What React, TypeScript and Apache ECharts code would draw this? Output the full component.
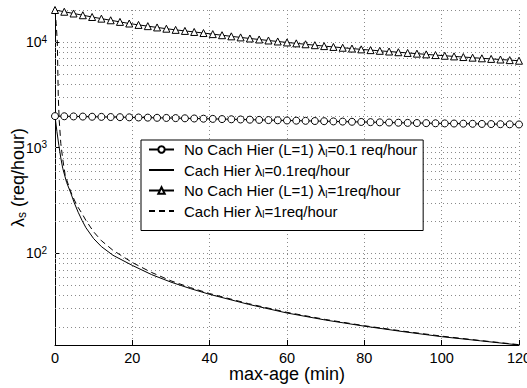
import React, { useEffect, useRef } from 'react';
import * as echarts from 'echarts';

// x positions of the marked points (markers every 2.4 min)
const markerX = [0, 2.4, 4.8, 7.2, 9.6, 12, 14.4, 16.8, 19.2, 21.6, 24, 26.4, 28.8, 31.2, 33.6, 36, 38.4, 40.8, 43.2, 45.6, 48, 50.4, 52.8, 55.2, 57.6, 60, 62.4, 64.8, 67.2, 69.6, 72, 74.4, 76.8, 79.2, 81.6, 84, 86.4, 88.8, 91.2, 93.6, 96, 98.4, 100.8, 103.2, 105.6, 108, 110.4, 112.8, 115.2, 117.6, 120];

// No Cach Hier (L=1), lambda_l = 0.1 req/hour (circles)
const noHierLow = [1990, 1984, 1977, 1971, 1964, 1958, 1951, 1945, 1938, 1932, 1926, 1919, 1913, 1906, 1898, 1890, 1882, 1874, 1866, 1858, 1850, 1842, 1834, 1826, 1818, 1810, 1803, 1796, 1789, 1782, 1774, 1767, 1760, 1753, 1746, 1738, 1731, 1724, 1718, 1713, 1708, 1703, 1698, 1694, 1689, 1684, 1679, 1674, 1670, 1665, 1660];

// No Cach Hier (L=1), lambda_l = 1 req/hour (triangles)
const noHierHigh = [20090, 19340, 18620, 17920, 17250, 16640, 16060, 15510, 14970, 14520, 14130, 13740, 13370, 13030, 12740, 12450, 12160, 11880, 11600, 11320, 11060, 10800, 10570, 10340, 10120, 9910, 9714, 9521, 9334, 9150, 8986, 8828, 8673, 8522, 8384, 8256, 8130, 8006, 7882, 7762, 7643, 7526, 7413, 7311, 7211, 7112, 7015, 6923, 6832, 6742, 6653];

// Cach Hier, lambda_l = 0.1 req/hour (solid)
const hierLowX = [0, 0.5, 1, 1.5, 2, 3, 4, 5, 6, 7, 8, 10, 12, 15, 20, 25, 30, 35, 40, 50, 60, 70, 80, 90, 100, 110, 120];
const hierLow = [1990, 1420, 1050, 800, 640, 470, 380, 300, 245, 205, 175, 138, 116, 96, 77, 63, 53.5, 46.5, 41, 33, 27.3, 23.4, 20.5, 18.2, 16.3, 14.9, 13.6];

// Cach Hier, lambda_l = 1 req/hour (dashed)
const hierHighX = [0, 0.3, 0.6, 0.85, 1.1, 1.5, 2, 2.6, 3, 4, 5, 6, 7, 8, 10, 12, 15, 20, 25, 30, 35, 40, 50, 60, 70, 80, 90, 100, 110, 120];
const hierHigh = [20090, 15000, 10000, 3000, 1800, 1100, 780, 560, 500, 390, 320, 272, 238, 205, 160, 132, 107, 82, 66, 55, 47.5, 41.7, 33.5, 27.7, 23.7, 20.7, 18.4, 16.5, 15, 13.7];

// horizontal (log) grid values
const yGridValues = [20, 30, 40, 50, 60, 70, 80, 90, 100, 200, 300, 400, 500, 600, 700, 800, 900, 1000, 2000, 3000, 4000, 5000, 6000, 7000, 8000, 9000, 10000, 20000];

const seriesNames = [
  'No Cach Hier (L=1) λl=0.1 req/hour',
  'Cach Hier λl=0.1req/hour',
  'No Cach Hier (L=1) λl=1req/hour',
  'Cach Hier λl=1req/hour',
];
const legendLabels = [
  'No Cach Hier (L=1) λ{sub|l}=0.1 req/hour',
  'Cach Hier λ{sub|l}=0.1req/hour',
  'No Cach Hier (L=1) λ{sub|l}=1req/hour',
  'Cach Hier λ{sub|l}=1req/hour',
];

const xMin = 0;
const xMax = 120;
const xInterval = 20;
const yMin = 13.6;
const yMax = 20090;

const FONT = "'Liberation Sans', Arial, Helvetica, sans-serif";

const pairs = (xs: number[], ys: number[]) => xs.map((x, i) => [x, ys[i]]);

export default function App() {
  const ref = useRef<HTMLDivElement>(null);
  useEffect(() => {
    if (!ref.current) return;
    const chart = echarts.init(ref.current, undefined, { renderer: 'svg' });
    const gridLine = { color: '#8a8a8a', width: 1, type: [1, 3] as number[] };
    const hidden = { color: 'rgba(0,0,0,0)', borderColor: 'rgba(0,0,0,0)', borderWidth: 0 };
    chart.setOption({
      animation: false,
      backgroundColor: '#fff',
      textStyle: { fontFamily: FONT },
      grid: { left: 55, right: 8, top: 10, bottom: 43, containLabel: false, outerBoundsMode: 'none' },
      legend: {
        orient: 'vertical',
        left: 141,
        top: 140,
        data: [
          { name: seriesNames[0] },
          { name: seriesNames[1], itemStyle: hidden },
          { name: seriesNames[2] },
          { name: seriesNames[3], itemStyle: hidden },
        ],
        formatter: (name: string) => legendLabels[seriesNames.indexOf(name)],
        backgroundColor: '#fff',
        borderColor: '#000',
        borderWidth: 1,
        borderRadius: 0,
        padding: [1, 6, 11, 7],
        itemWidth: 25,
        itemHeight: 8,
        itemGap: 3.5,
        textStyle: {
          fontFamily: FONT,
          fontSize: 15,
          lineHeight: 17,
          color: '#000',
          padding: [0, 0, 0, 5],
          rich: {
            sub: { fontFamily: FONT, fontSize: 10, color: '#000', verticalAlign: 'bottom', lineHeight: 6 },
          },
        },
      },
      xAxis: {
        type: 'value',
        min: xMin,
        max: xMax,
        interval: xInterval,
        name: 'max-age (min)',
        nameLocation: 'middle',
        nameGap: 20,
        nameMoveOverlap: false,
        nameTextStyle: { fontFamily: FONT, fontSize: 18, color: '#000' },
        axisLine: { lineStyle: { color: '#000', width: 1 } },
        axisTick: { inside: true, length: 5, lineStyle: { color: '#000' } },
        axisLabel: { fontFamily: FONT, fontSize: 14.5, lineHeight: 12, color: '#000', margin: 7 },
        splitLine: { show: true, lineStyle: gridLine },
      },
      yAxis: {
        type: 'log',
        logBase: 10,
        min: yMin,
        max: yMax,
        name: 'λ{s|s} (req/hour)',
        nameLocation: 'middle',
        nameRotate: 90,
        nameGap: 27,
        nameMoveOverlap: false,
        nameTextStyle: {
          fontFamily: FONT,
          fontSize: 18,
          lineHeight: 21,
          color: '#000',
          rich: {
            s: { fontFamily: FONT, fontSize: 12, color: '#000', verticalAlign: 'bottom', lineHeight: 8 },
          },
        },
        axisLine: { show: true, lineStyle: { color: '#000', width: 1 } },
        axisTick: { inside: true, length: 5, lineStyle: { color: '#000' } },
        axisLabel: {
          fontFamily: FONT,
          fontSize: 14,
          lineHeight: 16,
          color: '#000',
          margin: 8,
          showMinLabel: false,
          showMaxLabel: false,
          formatter: (v: number) => {
            const e = Math.round(Math.log10(v));
            if (Math.abs(Math.log10(v) - e) > 1e-6) return '';
            return '10{sup|' + e + '}';
          },
          rich: {
            sup: { fontFamily: FONT, fontSize: 10, color: '#000', verticalAlign: 'top', lineHeight: 3 },
          },
        },
        splitLine: { show: false },
      },
      series: [
        {
          name: seriesNames[0],
          type: 'line',
          data: pairs(markerX, noHierLow),
          symbol: 'circle',
          symbolSize: 7,
          showAllSymbol: true,
          itemStyle: { color: '#fff', borderColor: '#000', borderWidth: 1 },
          lineStyle: { color: '#000', width: 1 },
          z: 4,
          markLine: {
            silent: true,
            symbol: ['none', 'none'],
            label: { show: false },
            lineStyle: gridLine,
            z: 1,
            data: yGridValues.map((v) => ({ yAxis: v })),
          },
        },
        {
          name: seriesNames[1],
          type: 'line',
          data: pairs(hierLowX, hierLow),
          showSymbol: false,
          symbol: 'none',
          itemStyle: { color: '#000' },
          lineStyle: { color: '#000', width: 1 },
          z: 3,
        },
        {
          name: seriesNames[2],
          type: 'line',
          data: pairs(markerX, noHierHigh),
          symbol: 'triangle',
          symbolSize: 7,
          showAllSymbol: true,
          itemStyle: { color: '#fff', borderColor: '#000', borderWidth: 1 },
          lineStyle: { color: '#000', width: 1 },
          z: 4,
        },
        {
          name: seriesNames[3],
          type: 'line',
          data: pairs(hierHighX, hierHigh),
          showSymbol: false,
          symbol: 'none',
          itemStyle: { color: '#000' },
          lineStyle: { color: '#000', width: 1, type: [6, 4] },
          z: 3,
        },
      ],
    });
    return () => chart.dispose();
  }, []);
  return <div ref={ref} style={{ width: 527, height: 388, position: 'absolute', left: 0, top: 0 }} />;
}
